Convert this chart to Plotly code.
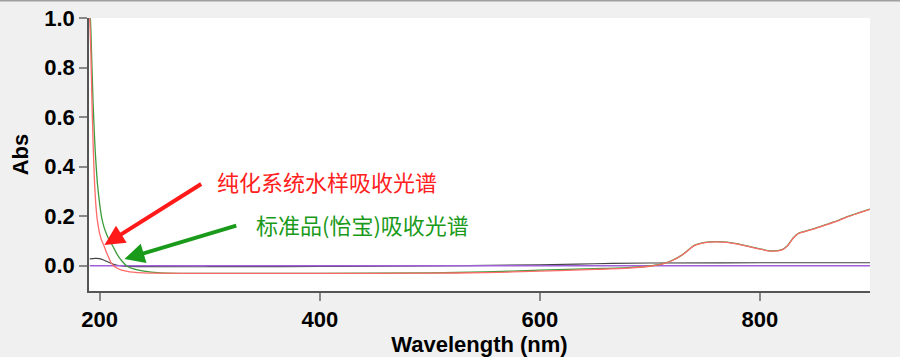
import plotly.graph_objects as go

# ---- data ----
wl_sample = [191, 192, 193, 194, 195, 196, 197, 198, 200, 202, 204, 206, 208, 210, 213, 216, 220, 225,
             230, 240, 250, 300, 400, 500, 550, 600, 650, 680, 700, 710, 720, 730, 740, 750, 760, 770,
             780, 790, 800, 810, 820, 825, 830, 835, 840, 850, 860, 870, 880, 890, 900]
abs_sample = [1.0, 0.86, 0.66, 0.5, 0.37, 0.28, 0.22, 0.18, 0.13, 0.1, 0.08, 0.055, 0.035, 0.015, -0.002,
              -0.01, -0.018, -0.023, -0.026, -0.029, -0.03, -0.031, -0.031, -0.03, -0.028, -0.022, -0.015,
              -0.01, -0.002, 0.005, 0.02, 0.045, 0.08, 0.093, 0.096, 0.094, 0.087, 0.077, 0.067, 0.059,
              0.064, 0.08, 0.11, 0.13, 0.137, 0.15, 0.165, 0.18, 0.198, 0.213, 0.228]

wl_std = [191.5, 192, 193, 194, 195, 196, 197, 198, 200, 202, 204, 206, 208, 210, 213, 216, 220, 225,
          230, 240, 250, 260, 300, 400, 500, 550, 600, 650, 680, 700, 710, 720, 730, 740, 750, 760, 770,
          780, 790, 800, 810, 820, 825, 830, 835, 840, 850, 860, 870, 880, 890, 900]
abs_std = [1.0, 0.95, 0.8, 0.66, 0.55, 0.46, 0.39, 0.33, 0.25, 0.19, 0.155, 0.13, 0.11, 0.095, 0.07,
           0.045, 0.02, -0.002, -0.012, -0.022, -0.027, -0.03, -0.031, -0.031, -0.029, -0.025, -0.018,
           -0.012, -0.008, -0.001, 0.006, 0.021, 0.046, 0.081, 0.094, 0.097, 0.095, 0.088, 0.078, 0.068,
           0.06, 0.065, 0.081, 0.111, 0.131, 0.138, 0.151, 0.166, 0.181, 0.199, 0.214, 0.229]

wl_blank = [191, 196, 200, 204, 208, 212, 216, 222, 240, 300, 400, 500, 600, 650, 700, 800, 900]
abs_blank = [0.028, 0.03, 0.029, 0.022, 0.014, 0.007, 0.002, -0.002, -0.004, -0.004, -0.003, -0.001,
             0.004, 0.008, 0.011, 0.012, 0.012]

wl_base = [191, 900]
abs_base = [0.0, 0.0]

x_ticks = [200, 400, 600, 800]
y_ticks = [0.0, 0.2, 0.4, 0.6, 0.8, 1.0]
y_ticklabels = ["0.0", "0.2", "0.4", "0.6", "0.8", "1.0"]

label_sample = "纯化系统水样吸收光谱"
label_std = "标准品(怡宝)吸收光谱"

# ---- figure ----
fig = go.Figure()
fig.add_trace(go.Scatter(x=wl_blank, y=abs_blank, mode="lines",
                         line=dict(color="#444444", width=1.2, shape="spline"), showlegend=False))
fig.add_trace(go.Scatter(x=wl_base, y=abs_base, mode="lines",
                         line=dict(color="#a060d8", width=1.5), showlegend=False))
fig.add_trace(go.Scatter(x=wl_std, y=abs_std, mode="lines",
                         line=dict(color="#3c9c3c", width=1.3, shape="spline", smoothing=0.6), showlegend=False))
fig.add_trace(go.Scatter(x=wl_sample, y=abs_sample, mode="lines",
                         line=dict(color="#ff6a6a", width=1.3, shape="spline", smoothing=0.6), showlegend=False))

tickfont = dict(family="Liberation Sans, Arial", size=22, color="black", weight="bold")

fig.update_xaxes(range=[190.3, 900], tickvals=x_ticks, ticks="outside", ticklen=8, tickwidth=1.5,
                 tickcolor="#888888", showline=True, linecolor="#555555", linewidth=1.5,
                 showgrid=False, zeroline=False, tickfont=tickfont,
                 automargin=False,
                 title=dict(text="Wavelength (nm)", font=tickfont, standoff=10))
fig.update_yaxes(range=[-0.102, 1.0], tickvals=y_ticks, ticktext=y_ticklabels, ticks="outside",
                 ticklen=8, tickwidth=1.5, tickcolor="#888888", showline=True, linecolor="#555555",
                 linewidth=1.5, showgrid=False, zeroline=False, tickfont=tickfont, automargin=False,
                 title=dict(text="Abs", font=tickfont, standoff=10))

cjk = "Noto Sans CJK SC"
fig.add_annotation(x=204.3, y=0.084, ax=293.6, ay=0.334, xref="x", yref="y", axref="x", ayref="y",
                   text="", showarrow=True, arrowhead=2, arrowsize=1.0, arrowwidth=4, arrowcolor="#ff1a1a")
fig.add_annotation(x=222.5, y=0.027, ax=325.5, ay=0.164, xref="x", yref="y", axref="x", ayref="y",
                   text="", showarrow=True, arrowhead=2, arrowsize=1.0, arrowwidth=4, arrowcolor="#1a9a1a")
fig.add_annotation(x=304.4, y=0.342, xref="x", yref="y", text=label_sample, showarrow=False,
                   xanchor="left", yanchor="middle", font=dict(family=cjk, size=22, color="#ff2020"))
fig.add_annotation(x=340.6, y=0.168, xref="x", yref="y", text=label_std, showarrow=False,
                   xanchor="left", yanchor="middle", font=dict(family=cjk, size=22, color="#1a9a1a"))

fig.add_shape(type="line", xref="paper", yref="paper", x0=-0.2, x1=1.1, y0=1 + 17.5 / 273, y1=1 + 17.5 / 273,
              line=dict(color="#a0a0a0", width=2))

fig.update_layout(width=900, height=357, margin=dict(l=89, r=30, t=18, b=66, autoexpand=False),
                  paper_bgcolor="#f0f0f0", plot_bgcolor="white")

fig.write_html("out.html", config={"displayModeBar": False},
               post_script="document.body.style.margin='0';document.body.style.background='#f0f0f0';")
